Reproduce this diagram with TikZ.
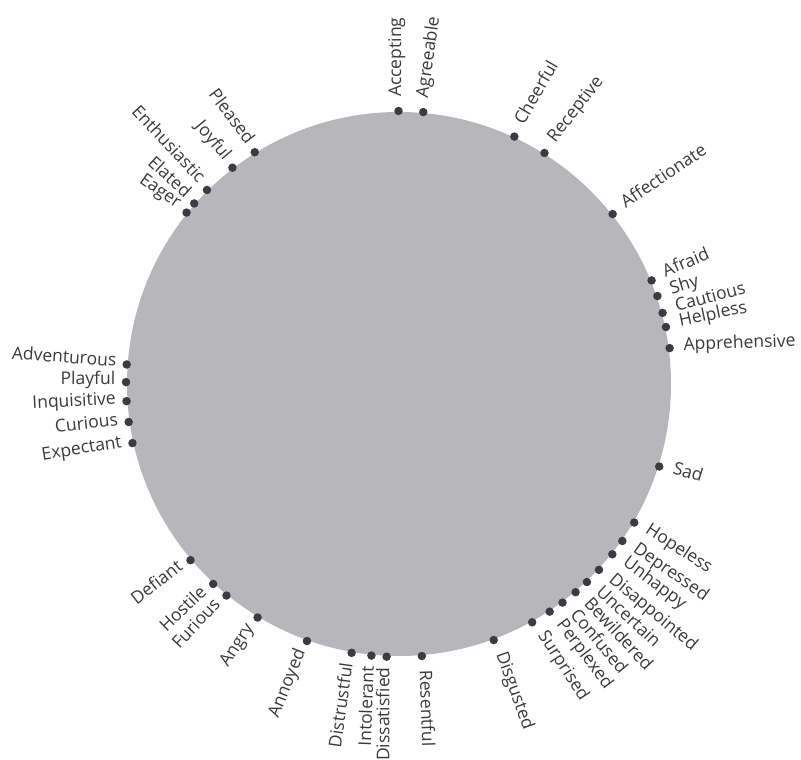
\documentclass[tikz,border=0pt]{standalone}
\usepackage{fontspec}
\setmainfont{Open Sans}
\usetikzlibrary{calc}
\definecolor{disk}{RGB}{182,182,187}
\definecolor{dotc}{RGB}{60,58,66}
\definecolor{txt}{RGB}{58,58,62}
\begin{document}
\begin{tikzpicture}[x=1pt,y=1pt,
  lbl/.style={font=\fontsize{17.5}{21}\selectfont, text=txt, inner ysep=0pt},
  rlab/.style={lbl, inner xsep=14pt, anchor=mid west, rotate=#1},
  llab/.style={lbl, inner xsep=10.5pt, anchor=mid east, rotate=#1},
  emo/.style={circle, fill=dotc, minimum size=8.5pt, inner sep=0pt}]
\useasboundingbox (0,0) rectangle (801,760);
\begin{scope}[shift={(399,376)}]
\fill[disk] (0,0) circle (272);
\foreach \n/\a/\r in {Accepting/90.1/90, Agreeable/84.9/82, Cheerful/65/60,
  Receptive/57.8/52, Affectionate/38.5/34, Afraid/22.3/23, Shy/18.8/17,
  Cautious/15.1/15, Helpless/12.05/12, Apprehensive/7.55/2, Sad/-17.6/-17,
  Hopeless/-30.5/-33, Depressed/-35.1/-35, Unhappy/-38.6/-37,
  Disappointed/-42.9/-40, Uncertain/-46.5/-43, Bewildered/-49.7/-47,
  Confused/-53.2/-50, Perplexed/-56.5/-53, Surprised/-60.8/-57,
  Disgusted/-69.7/-70, Resentful/-85.2/-88}
{
  \node[emo] (d\n) at (\a:273) {};
  \node[rlab=\r] (t\n) at (d\n.center) {\n};
}
\foreach \n/\a/\r in {Eager/141.1/-35, Elated/138.6/-42, Enthusiastic/134.7/-47,
  Joyful/127.6/-50, Pleased/121.9/-53, Adventurous/175.9/-4, Playful/179.6/0,
  Inquisitive/183.6/3, Curious/188/6, Expectant/192.5/9, Defiant/220.2/38,
  Hostile/227.1/44, Furious/230.8/47, Angry/238.8/57, Annoyed/250.3/68,
  Distrustful/260/82, Intolerant/264.2/88, Dissatisfied/267.4/90}
{
  \node[emo] (d\n) at (\a:273) {};
  \node[llab=\r] (t\n) at (d\n.center) {\n};
}
\end{scope}
\end{tikzpicture}
\end{document}
